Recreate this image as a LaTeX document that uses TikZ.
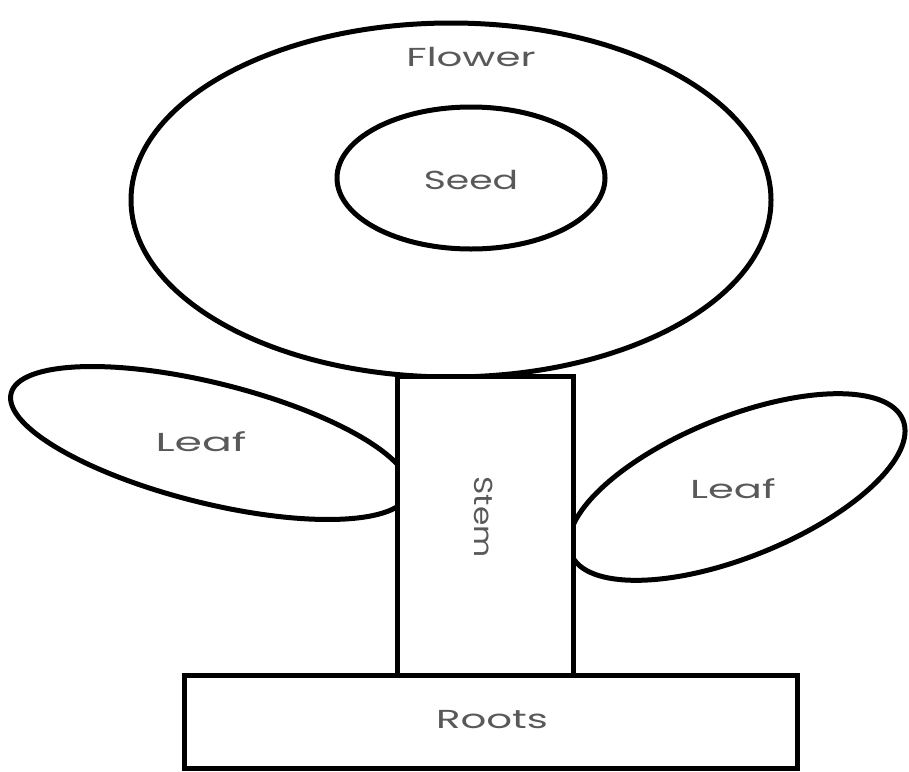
\documentclass[tikz,border=0pt]{standalone}
\usepackage{fontspec}
\setmainfont{Poppins}
\usetikzlibrary{shapes.geometric}
\begin{document}
\begin{tikzpicture}[x=1pt,y=-1pt,
  part/.style={draw=black,line width=5pt,fill=white,inner sep=0pt,outer sep=0pt},
  oval/.style={part,ellipse},
  box/.style={part,rectangle},
  lbl/.style={text=black!65,font=\fontsize{26}{26}\selectfont,inner sep=0pt}]
\useasboundingbox (0,0) rectangle (909,771);
\fill[white] (0,0) rectangle (909,771);
% flower and seed
\node[oval,minimum width=640pt,minimum height=354pt] (flowershape) at (451,200) {};
\node[oval,minimum width=268pt,minimum height=142pt] (seedshape) at (471,178) {};
% leaves
\node[oval,minimum width=410pt,minimum height=120pt,rotate=-14] (leaflshape) at (210,443) {};
\node[oval,minimum width=358pt,minimum height=140pt,rotate=22] (leafrshape) at (737,487) {};
% stem and roots
\node[box,minimum width=176pt,minimum height=299pt] (stemshape) at (485,525.5) {};
\node[box,minimum width=613pt,minimum height=93pt] (rootsshape) at (490.5,721.5) {};
% labels
\node[lbl] (flower) at (471,57) {\scalebox{1.55}[1]{Flower}};
\node[lbl] (seed) at (471,180) {\scalebox{1.45}[1]{Seed}};
\node[lbl] (leafl) at (201,442) {\scalebox{1.7}[1]{Leaf}};
\node[lbl] (leafr) at (733,489) {\scalebox{1.6}[1]{Leaf}};
\node[lbl,rotate=-90] (stem) at (484,517) {\scalebox{1.2}[1]{Stem}};
\node[lbl] (roots) at (492,720) {\scalebox{1.55}[1]{Roots}};
\end{tikzpicture}
\end{document}
